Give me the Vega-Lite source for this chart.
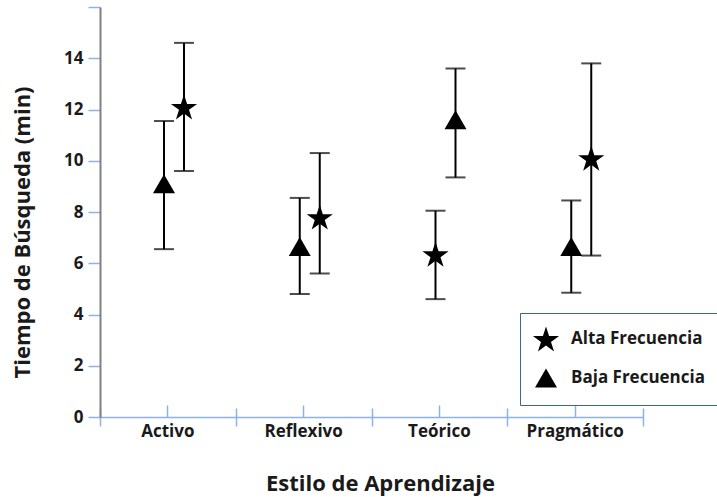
{
  "$schema": "https://vega.github.io/schema/vega-lite/v6.json",
  "width": 543,
  "height": 410,
  "autosize": {"type": "none"},
  "padding": {"left": 100, "top": 7, "right": 74, "bottom": 80},
  "background": "white",
  "config": {
    "view": {"stroke": null},
    "font": "Open Sans",
    "axis": {"grid": false, "labelFont": "Open Sans", "titleFont": "Open Sans"}
  },
  "data": {
    "values": [
      {"estilo": "Activo", "frecuencia": "Alta Frecuencia", "orden": "der", "media": 12.1, "low": 9.6, "high": 14.6},
      {"estilo": "Activo", "frecuencia": "Baja Frecuencia", "orden": "izq", "media": 9.1, "low": 6.55, "high": 11.55},
      {"estilo": "Reflexivo", "frecuencia": "Alta Frecuencia", "orden": "der", "media": 7.8, "low": 5.6, "high": 10.3},
      {"estilo": "Reflexivo", "frecuencia": "Baja Frecuencia", "orden": "izq", "media": 6.65, "low": 4.8, "high": 8.55},
      {"estilo": "Teórico", "frecuencia": "Alta Frecuencia", "orden": "izq", "media": 6.35, "low": 4.6, "high": 8.05},
      {"estilo": "Teórico", "frecuencia": "Baja Frecuencia", "orden": "der", "media": 11.6, "low": 9.35, "high": 13.6},
      {"estilo": "Pragmático", "frecuencia": "Alta Frecuencia", "orden": "der", "media": 10.1, "low": 6.3, "high": 13.8},
      {"estilo": "Pragmático", "frecuencia": "Baja Frecuencia", "orden": "izq", "media": 6.65, "low": 4.85, "high": 8.45}
    ]
  },
  "layer": [
    {
      "mark": {"type": "rule", "color": "black", "strokeWidth": 2},
      "encoding": {
        "x": {
          "field": "estilo", "type": "nominal", "sort": ["Activo", "Reflexivo", "Teórico", "Pragmático"],
          "scale": {"paddingInner": 0, "paddingOuter": 0},
          "axis": {
            "orient": "bottom", "title": "Estilo de Aprendizaje", "labelAngle": 0,
            "labelFont": "Open Sans", "labelFontWeight": "bold", "labelFontSize": 17, "labelColor": "#1a1a1a",
            "labelPadding": 18,
            "tickSize": -12, "tickColor": "#8db3e2", "tickWidth": 1.5,
            "domainColor": "#8db3e2", "domainWidth": 1.5,
            "titleFont": "Open Sans", "titleFontSize": 22, "titleFontWeight": "bold", "titleColor": "#1a1a1a",
            "titleX": 280, "titleY": 66, "titleBaseline": "middle"
          }
        },
        "xOffset": {"field": "orden", "type": "nominal", "sort": ["izq", "der"], "scale": {"range": [54, 94], "paddingInner": 0, "paddingOuter": 0}},
        "y": {
          "field": "low", "type": "quantitative",
          "scale": {"domain": [0, 16], "nice": false},
          "axis": {
            "title": "Tiempo de Búsqueda (min)",
            "values": [0, 2, 4, 6, 8, 10, 12, 14, 16],
            "labelExpr": "datum.value == 16 ? '' : datum.label",
            "labelFont": "Open Sans", "labelFontWeight": "bold", "labelFontSize": 17, "labelColor": "#1a1a1a",
            "labelPadding": 5,
            "tickSize": 12, "tickColor": "#8db3e2", "tickWidth": 1.5,
            "domainColor": "#808080", "domainWidth": 2,
            "titleFont": "Open Sans", "titleFontSize": 22, "titleFontWeight": "bold", "titleColor": "#1a1a1a",
            "titleX": -78, "titleY": 225, "titleBaseline": "middle", "titleAlign": "center"
          }
        },
        "y2": {"field": "high"}
      }
    },
    {
      "mark": {"type": "tick", "color": "black", "thickness": 2, "size": 20, "orient": "horizontal"},
      "encoding": {
        "x": {
          "field": "estilo", "type": "nominal", "sort": ["Activo", "Reflexivo", "Teórico", "Pragmático"],
          "axis": {
            "orient": "bottom", "title": null, "labels": false, "domain": false,
            "tickBand": "extent", "tickSize": 18, "offset": -9,
            "tickColor": "#8db3e2", "tickWidth": 1.5
          }
        },
        "xOffset": {"field": "orden", "type": "nominal", "sort": ["izq", "der"]},
        "y": {"field": "low", "type": "quantitative", "axis": {"title": "Tiempo de Búsqueda (min)"}}
      }
    },
    {
      "mark": {"type": "tick", "color": "black", "thickness": 2, "size": 20, "orient": "horizontal"},
      "encoding": {
        "x": {"field": "estilo", "type": "nominal", "sort": ["Activo", "Reflexivo", "Teórico", "Pragmático"], "axis": null},
        "xOffset": {"field": "orden", "type": "nominal", "sort": ["izq", "der"]},
        "y": {"field": "high", "type": "quantitative", "axis": {"title": "Tiempo de Búsqueda (min)"}}
      }
    },
    {
      "mark": {"type": "point", "filled": true, "color": "black", "opacity": 1, "size": 484},
      "encoding": {
        "x": {"field": "estilo", "type": "nominal", "sort": ["Activo", "Reflexivo", "Teórico", "Pragmático"], "axis": null},
        "xOffset": {"field": "orden", "type": "nominal", "sort": ["izq", "der"]},
        "y": {"field": "media", "type": "quantitative", "axis": {"title": "Tiempo de Búsqueda (min)"}},
        "shape": {
          "field": "frecuencia", "type": "nominal",
          "scale": {
            "domain": ["Alta Frecuencia", "Baja Frecuencia"],
            "range": ["M0,-1.131L0.281,-0.267L1.189,-0.267L0.454,0.267L0.735,1.131L0,0.597L-0.735,1.131L-0.454,0.267L-1.189,-0.267L-0.281,-0.267Z", "triangle-up"]
          },
          "legend": {
            "title": null, "orient": "none", "legendX": 420, "legendY": 306,
            "strokeColor": "#3f6396", "padding": 14,
            "symbolSize": 484, "symbolFillColor": "black", "symbolStrokeColor": "black", "symbolOpacity": 1,
            "labelFont": "Open Sans", "labelFontWeight": "bold", "labelFontSize": 17, "labelColor": "#1a1a1a",
            "labelOffset": 13, "rowPadding": 10
          }
        }
      }
    }
  ],
  "resolve": {"axis": {"x": "independent"}}
}
